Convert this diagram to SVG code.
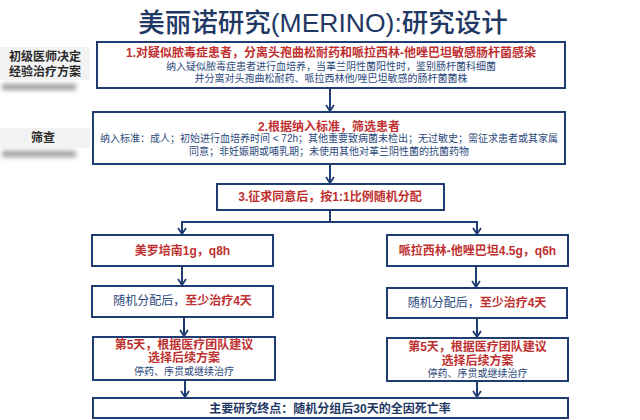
<svg xmlns="http://www.w3.org/2000/svg" width="640" height="420" viewBox="0 0 640 420">
<style>
.box{fill:#fff;stroke:#1f3c73;stroke-width:2}
.t{font-family:"Liberation Sans","Noto Sans CJK SC",sans-serif;text-anchor:middle}
.red{fill:#bf3030;font-weight:bold;font-size:12px}
.nav{fill:#2d4a7c;font-size:10px}
.navb{fill:#1f3864;font-weight:bold;font-size:12px}
.lab{fill:#2a2a2a;font-weight:bold;font-size:12px}
.conn{fill:none;stroke:#1f3c73;stroke-width:2}
</style>
<defs>
<marker id="ah" viewBox="-1 -5 8 10" refX="6" refY="0" markerWidth="8" markerHeight="10" markerUnits="userSpaceOnUse" orient="auto">
<path d="M0,-4 L6,0 L0,4" fill="none" stroke="#1f3c73" stroke-width="1.8"/>
</marker>
<filter id="bl" x="-20%" y="-100%" width="140%" height="300%"><feGaussianBlur stdDeviation="2.5"/></filter>
</defs>
<rect width="640" height="420" fill="#fff"/>
<text class="t" x="323" y="32" font-size="26.5" font-weight="500" fill="#1f3864">美丽诺研究(MERINO):研究设计</text>

<g id="label-1">
<rect x="2" y="84" width="74" height="6" fill="#9a9a9a" filter="url(#bl)"/>
<rect x="0" y="47" width="90" height="33" fill="#f3f3f3"/>
<text class="t lab" x="45" y="61">初级医师决定</text>
<text class="t lab" x="45" y="76">经验治疗方案</text>
</g>
<g id="label-2">
<rect x="2" y="151" width="74" height="6" fill="#9a9a9a" filter="url(#bl)"/>
<rect x="0" y="128" width="90" height="20" fill="#f3f3f3"/>
<text class="t lab" x="43" y="142">筛查</text>
</g>

<g id="connectors">
<line class="conn" x1="330" y1="89" x2="330" y2="111" marker-end="url(#ah)"/>
<line class="conn" x1="330" y1="165" x2="330" y2="183" marker-end="url(#ah)"/>
<polyline class="conn" points="330,211 330,222"/>
<line class="conn" x1="181" y1="222" x2="478" y2="222"/>
<line class="conn" x1="182" y1="222" x2="182" y2="234" marker-end="url(#ah)"/>
<line class="conn" x1="477" y1="222" x2="477" y2="234" marker-end="url(#ah)"/>
<line class="conn" x1="182" y1="267" x2="182" y2="285" marker-end="url(#ah)"/>
<line class="conn" x1="476" y1="267" x2="476" y2="287" marker-end="url(#ah)"/>
<line class="conn" x1="184" y1="318" x2="184" y2="336" marker-end="url(#ah)"/>
<line class="conn" x1="477" y1="319" x2="477" y2="337" marker-end="url(#ah)"/>
<line class="conn" x1="185" y1="381" x2="185" y2="397" marker-end="url(#ah)"/>
<line class="conn" x1="477" y1="382" x2="477" y2="397" marker-end="url(#ah)"/>
</g>

<g id="node-1">
<rect class="box" x="97" y="42" width="468" height="46"/>
<text class="t red" x="331" y="57">1.对疑似脓毒症患者，分离头孢曲松耐药和哌拉西林-他唑巴坦敏感肠杆菌感染</text>
<text class="t nav" x="331" y="70">纳入疑似脓毒症患者进行血培养，当革兰阴性菌阳性时，鉴别肠杆菌科细菌</text>
<text class="t nav" x="331" y="82">并分离对头孢曲松耐药、哌拉西林他/唑巴坦敏感的肠杆菌菌株</text>
</g>
<g id="node-2">
<rect class="box" x="93" y="112" width="472" height="52"/>
<text class="t red" x="329" y="131">2.根据纳入标准，筛选患者</text>
<text class="t nav" x="329" y="142">纳入标准：成人；初始进行血培养时间 &lt; 72h；其他重要致病菌未检出；无过敏史；需征求患者或其家属</text>
<text class="t nav" x="329" y="155">同意；非妊娠期或哺乳期；未使用其他对革兰阴性菌的抗菌药物</text>
</g>
<g id="node-3">
<rect class="box" x="217" y="184" width="227" height="26"/>
<text class="t red" x="330" y="201">3.征求同意后，按1:1比例随机分配</text>
</g>
<g id="node-4a">
<rect class="box" x="92" y="235" width="181" height="31"/>
<text class="t red" x="182.5" y="255">美罗培南1g，q8h</text>
</g>
<g id="node-4b">
<rect class="box" x="387" y="235" width="181" height="31"/>
<text class="t red" x="477.5" y="255">哌拉西林-他唑巴坦4.5g，q6h</text>
</g>
<g id="node-5a">
<rect class="box" x="92" y="286" width="181" height="31"/>
<text class="t" x="182.5" y="305" font-size="12"><tspan fill="#2d4a7c">随机分配后，</tspan><tspan fill="#bf3030" font-weight="bold">至少治疗4天</tspan></text>
</g>
<g id="node-5b">
<rect class="box" x="387" y="288" width="180" height="30"/>
<text class="t" x="477" y="307" font-size="12"><tspan fill="#2d4a7c">随机分配后，</tspan><tspan fill="#bf3030" font-weight="bold">至少治疗4天</tspan></text>
</g>
<g id="node-6a">
<rect class="box" x="93" y="337" width="182" height="43"/>
<text class="t red" x="184" y="349">第5天，根据医疗团队建议</text>
<text class="t red" x="184" y="362">选择后续方案</text>
<text class="t nav" x="184" y="375">停药、序贯或继续治疗</text>
</g>
<g id="node-6b">
<rect class="box" x="387" y="338" width="181" height="43"/>
<text class="t red" x="477.5" y="351">第5天，根据医疗团队建议</text>
<text class="t red" x="477.5" y="365">选择后续方案</text>
<text class="t nav" x="477.5" y="377">停药、序贯或继续治疗</text>
</g>
<g id="node-7">
<rect class="box" x="93" y="398" width="475" height="20"/>
<text class="t navb" x="330" y="413">主要研究终点：随机分组后30天的全因死亡率</text>
</g>
</svg>
